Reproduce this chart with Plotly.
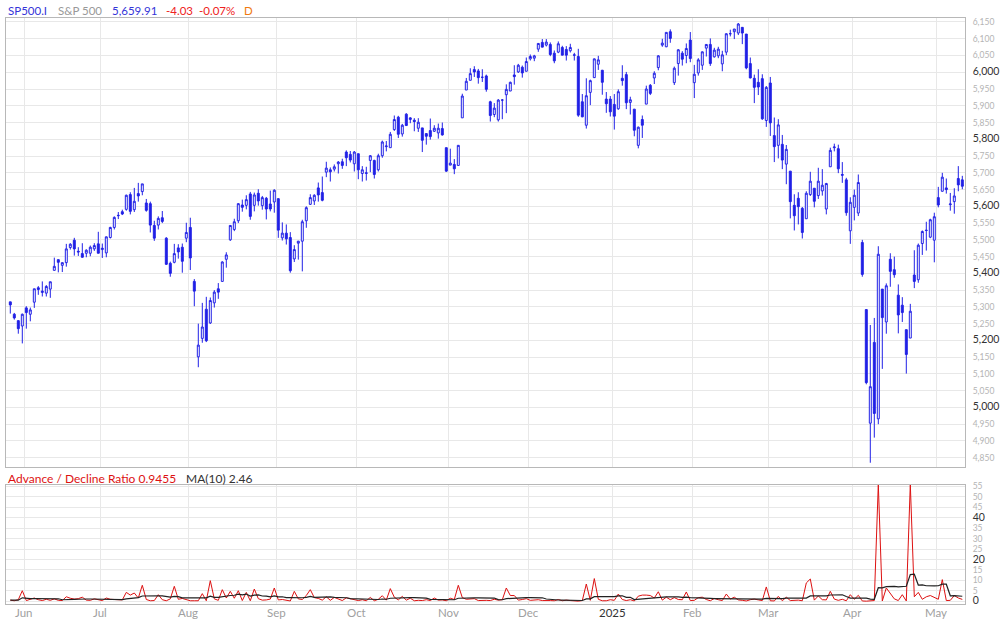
import plotly.graph_objects as go
import pandas as pd

# ---------------- data ----------------
dates = ["2024-05-28","2024-05-29","2024-05-30","2024-05-31","2024-06-03","2024-06-04","2024-06-05","2024-06-06","2024-06-07","2024-06-10",
"2024-06-11","2024-06-12","2024-06-13","2024-06-14","2024-06-17","2024-06-18","2024-06-20","2024-06-21","2024-06-24","2024-06-25",
"2024-06-26","2024-06-27","2024-06-28","2024-07-01","2024-07-02","2024-07-03","2024-07-05","2024-07-08","2024-07-09","2024-07-10",
"2024-07-11","2024-07-12","2024-07-15","2024-07-16","2024-07-17","2024-07-18","2024-07-19","2024-07-22","2024-07-23","2024-07-24",
"2024-07-25","2024-07-26","2024-07-29","2024-07-30","2024-07-31","2024-08-01","2024-08-02","2024-08-05","2024-08-06","2024-08-07",
"2024-08-08","2024-08-09","2024-08-12","2024-08-13","2024-08-14","2024-08-15","2024-08-16","2024-08-19","2024-08-20","2024-08-21",
"2024-08-22","2024-08-23","2024-08-26","2024-08-27","2024-08-28","2024-08-29","2024-08-30","2024-09-03","2024-09-04","2024-09-05",
"2024-09-06","2024-09-09","2024-09-10","2024-09-11","2024-09-12","2024-09-13","2024-09-16","2024-09-17","2024-09-18","2024-09-19",
"2024-09-20","2024-09-23","2024-09-24","2024-09-25","2024-09-26","2024-09-27","2024-09-30","2024-10-01","2024-10-02","2024-10-03",
"2024-10-04","2024-10-07","2024-10-08","2024-10-09","2024-10-10","2024-10-11","2024-10-14","2024-10-15","2024-10-16","2024-10-17",
"2024-10-18","2024-10-21","2024-10-22","2024-10-23","2024-10-24","2024-10-25","2024-10-28","2024-10-29","2024-10-30","2024-10-31",
"2024-11-01","2024-11-04","2024-11-05","2024-11-06","2024-11-07","2024-11-08","2024-11-11","2024-11-12","2024-11-13","2024-11-14",
"2024-11-15","2024-11-18","2024-11-19","2024-11-20","2024-11-21","2024-11-22","2024-11-25","2024-11-26","2024-11-27","2024-11-29",
"2024-12-02","2024-12-03","2024-12-04","2024-12-05","2024-12-06","2024-12-09","2024-12-10","2024-12-11","2024-12-12","2024-12-13",
"2024-12-16","2024-12-17","2024-12-18","2024-12-19","2024-12-20","2024-12-23","2024-12-24","2024-12-26","2024-12-27","2024-12-30",
"2024-12-31","2025-01-02","2025-01-03","2025-01-06","2025-01-07","2025-01-08","2025-01-10","2025-01-13","2025-01-14","2025-01-15",
"2025-01-16","2025-01-17","2025-01-21","2025-01-22","2025-01-23","2025-01-24","2025-01-27","2025-01-28","2025-01-29","2025-01-30",
"2025-01-31","2025-02-03","2025-02-04","2025-02-05","2025-02-06","2025-02-07","2025-02-10","2025-02-11","2025-02-12","2025-02-13",
"2025-02-14","2025-02-18","2025-02-19","2025-02-20","2025-02-21","2025-02-24","2025-02-25","2025-02-26","2025-02-27","2025-02-28",
"2025-03-03","2025-03-04","2025-03-05","2025-03-06","2025-03-07","2025-03-10","2025-03-11","2025-03-12","2025-03-13","2025-03-14",
"2025-03-17","2025-03-18","2025-03-19","2025-03-20","2025-03-21","2025-03-24","2025-03-25","2025-03-26","2025-03-27","2025-03-28",
"2025-03-31","2025-04-01","2025-04-02","2025-04-03","2025-04-04","2025-04-07","2025-04-08","2025-04-09","2025-04-10","2025-04-11",
"2025-04-14","2025-04-15","2025-04-16","2025-04-17","2025-04-21","2025-04-22","2025-04-23","2025-04-24","2025-04-25","2025-04-28",
"2025-04-29","2025-04-30","2025-05-01","2025-05-02","2025-05-05","2025-05-06","2025-05-07","2025-05-08","2025-05-09"]

opens = [5315,5278,5259,5243,5297,5278,5314,5357,5343,5341,5353,5409,5441,5424,5432,5477,5499,5466,5459,5460,
5460,5473,5488,5471,5461,5507,5537,5572,5584,5591,5635,5590,5638,5644,5610,5608,5543,5544,5566,5505,
5430,5433,5476,5478,5505,5537,5376,5151,5206,5293,5252,5312,5354,5376,5442,5500,5531,5557,5604,5603,
5637,5603,5639,5602,5624,5607,5613,5623,5506,5520,5507,5443,5490,5496,5557,5606,5616,5655,5641,5702,
5709,5711,5727,5733,5762,5755,5727,5757,5698,5698,5737,5737,5709,5751,5778,5775,5829,5866,5816,5875,
5859,5857,5833,5834,5817,5826,5824,5819,5832,5775,5723,5725,5722,5864,5947,5976,6008,6004,5985,5989,
5912,5874,5858,5917,5933,5944,5992,6001,6015,6003,6040,6042,6069,6089,6081,6083,6057,6060,6074,6068,
6064,6052,6047,5912,5842,5940,5984,6024,6006,5920,5920,5904,5891,5982,5993,5910,5890,5782,5859,5905,
5961,5983,6014,6081,6076,6121,5969,6026,6057,6050,6096,5969,5998,6021,6072,6083,6046,6049,6025,6060,
6115,6121,6117,6134,6114,6026,5982,5970,5981,5856,5968,5811,5782,5785,5726,5705,5603,5624,5594,5563,
5635,5654,5632,5646,5592,5718,5775,5772,5695,5679,5527,5597,5580,5492,5292,4953,5194,4966,5353,5255,
5442,5411,5335,5305,5232,5207,5395,5381,5489,5529,5508,5499,5626,5645,5655,5605,5614,5683,5679]

highs = [5315,5282,5260,5280,5302,5298,5354,5362,5376,5365,5375,5447,5441,5432,5488,5490,5506,5478,5490,5472,
5483,5490,5524,5489,5510,5539,5570,5583,5590,5635,5642,5655,5670,5667,5622,5614,5557,5570,5586,5508,
5435,5488,5487,5489,5551,5566,5383,5250,5312,5330,5328,5350,5371,5436,5463,5544,5563,5609,5620,5633,
5643,5641,5651,5631,5628,5647,5651,5623,5552,5546,5523,5484,5497,5560,5600,5636,5636,5671,5689,5733,
5716,5725,5735,5742,5767,5765,5765,5757,5720,5718,5753,5739,5757,5796,5795,5822,5871,5870,5846,5878,
5866,5863,5863,5834,5817,5862,5842,5847,5850,5775,5772,5741,5783,5936,5983,6012,6018,6010,6009,5993,
5915,5908,5920,5920,5964,5972,6021,6025,6020,6044,6053,6052,6087,6099,6099,6089,6065,6092,6079,6078,
6085,6058,6070,5935,5982,5978,6041,6049,6007,5941,5929,5935,5949,6021,6001,5927,5890,5838,5871,5960,
5965,6003,6051,6100,6119,6128,6017,6069,6063,6086,6120,6022,6042,6062,6084,6101,6073,6076,6064,6116,
6127,6129,6147,6134,6114,6044,5993,6009,5994,5959,5986,5865,5860,5813,5783,5705,5636,5642,5598,5645,
5703,5654,5715,5711,5670,5775,5787,5784,5732,5685,5627,5650,5695,5500,5292,5246,5267,5481,5353,5370,
5460,5450,5367,5329,5232,5309,5469,5489,5528,5554,5563,5581,5658,5700,5683,5640,5654,5720,5691]

lows = [5280,5262,5220,5191,5235,5257,5297,5336,5331,5331,5327,5409,5403,5404,5420,5471,5453,5452,5447,5448,
5451,5467,5460,5446,5448,5504,5531,5562,5574,5587,5576,5583,5614,5633,5584,5522,5497,5531,5550,5425,
5390,5430,5444,5402,5493,5410,5302,5120,5193,5195,5249,5298,5324,5376,5417,5497,5526,5550,5584,5591,
5560,5585,5602,5590,5561,5585,5581,5506,5498,5486,5402,5434,5441,5406,5536,5604,5604,5614,5615,5687,
5674,5704,5698,5712,5720,5731,5704,5681,5674,5677,5702,5683,5704,5745,5764,5775,5825,5804,5808,5840,
5848,5824,5822,5762,5784,5799,5822,5802,5811,5703,5723,5696,5722,5864,5947,5976,5986,5966,5971,5942,
5853,5866,5853,5860,5878,5944,5963,5998,5984,6003,6035,6033,6061,6075,6077,6048,6027,6057,6051,6035,
6059,6035,5867,5866,5832,5902,5983,6007,5933,5879,5868,5829,5888,5960,5890,5874,5809,5773,5804,5905,
5932,5965,6006,6076,6075,6088,5962,5990,6020,6027,6030,5923,5990,6007,6047,6019,6044,6042,6003,6051,
6107,6099,6111,6084,6009,5982,5908,5932,5858,5837,5810,5732,5743,5711,5666,5564,5528,5546,5504,5563,
5631,5597,5622,5632,5576,5718,5764,5699,5670,5572,5488,5558,5571,5390,5069,4835,4910,4950,5115,5220,
5360,5387,5221,5255,5101,5207,5356,5372,5455,5468,5505,5433,5597,5644,5638,5587,5578,5645,5651]

closes = [5306,5267,5235,5278,5283,5291,5354,5352,5347,5361,5375,5421,5433,5432,5473,5487,5473,5464,5448,5469,
5478,5483,5460,5475,5509,5537,5567,5573,5577,5633,5585,5615,5631,5667,5588,5544,5505,5564,5555,5427,
5400,5459,5464,5436,5522,5446,5347,5186,5240,5199,5319,5344,5344,5434,5455,5543,5554,5608,5597,5620,
5570,5634,5616,5626,5592,5592,5648,5529,5520,5503,5408,5471,5496,5554,5596,5626,5633,5634,5618,5714,
5703,5718,5732,5722,5745,5738,5762,5709,5709,5700,5751,5695,5751,5792,5780,5815,5859,5815,5842,5841,
5864,5853,5851,5797,5809,5808,5833,5833,5813,5705,5729,5712,5782,5929,5973,5996,6001,5984,5985,5949,
5871,5893,5917,5917,5949,5970,5987,6021,5998,6032,6047,6049,6086,6075,6090,6053,6034,6085,6051,6051,
6074,6051,5872,5867,5930,5975,6040,6037,5970,5906,5882,5869,5942,5975,5909,5918,5827,5836,5842,5950,
5937,5997,6049,6087,6119,6101,6012,6067,6039,6071,6041,5994,6037,6061,6083,6026,6066,6069,6052,6115,
6115,6129,6144,6117,6013,5983,5955,5956,5861,5955,5849,5778,5843,5738,5770,5614,5572,5599,5522,5639,
5675,5615,5675,5663,5668,5767,5777,5712,5693,5581,5612,5633,5671,5397,5074,5062,4982,5457,5268,5363,
5406,5396,5276,5283,5158,5287,5376,5484,5525,5528,5560,5569,5604,5687,5650,5607,5631,5664,5659.91]

ad_ratio = [0.6,0.3,0.8,5.1,0.4,0.9,1.6,0.8,0.4,1.0,0.5,1.2,0.5,0.4,2.2,1.5,1.1,1.3,2.0,0.6,
0.5,1.2,0.7,0.4,1.6,1.0,0.9,0.8,0.7,4.3,3.0,4.0,1.6,7.7,0.9,0.3,0.4,3.2,0.8,0.3,
1.2,7.2,1.0,1.4,0.9,0.3,0.3,0.3,3.7,0.3,9.9,1.2,0.5,5.6,1.6,4.8,1.5,5.1,0.4,4.3,
0.3,5.9,1.3,0.6,0.7,1.1,6.4,0.7,0.9,0.4,0.2,4.8,1.2,0.9,2.8,5.6,1.8,1.4,0.6,2.2,
0.5,1.9,1.2,0.4,1.7,1.3,0.9,0.4,0.8,0.3,1.9,0.3,1.0,2.7,0.6,6.1,2.0,0.7,2.4,0.6,
1.5,0.3,0.5,0.4,0.8,0.4,1.6,0.6,0.7,0.3,1.5,0.9,7.7,1.8,1.0,1.2,1.3,0.4,0.6,0.5,
0.4,1.0,0.6,0.8,6.4,2.8,2.8,0.6,0.9,1.3,0.5,0.7,0.8,0.4,0.5,0.4,0.3,0.9,0.3,0.6,
0.4,0.3,0.1,0.4,8.3,0.5,10.9,1.0,0.3,0.3,0.8,0.5,3.5,0.9,0.4,0.8,0.2,2.5,3.0,3.0,
2.8,1.6,4.6,0.6,2.0,0.8,1.8,0.9,0.8,4.5,0.4,0.5,1.8,2.0,0.9,0.3,1.4,0.8,0.4,3.5,
1.1,2.0,0.7,0.5,0.2,0.8,1.1,0.7,0.4,6.9,0.3,0.2,2.4,0.3,2.0,0.4,0.5,0.6,0.3,8.8,
10.7,0.6,2.6,0.8,0.7,4.8,1.1,0.5,1.0,0.3,3.2,1.0,2.9,0.2,0.1,0.3,0.4,56.0,0.2,6.4,
4.0,1.2,0.4,3.2,0.2,56.0,2.2,4.3,1.0,2.2,2.8,1.9,1.0,10.4,0.4,0.5,2.8,1.6,0.9455]

month_labels = ["Jun","Jul","Aug","Sep","Oct","Nov","Dec","2025","Feb","Mar","Apr","May"]
month_first_days = ["2024-06-03","2024-07-01","2024-08-01","2024-09-03","2024-10-01","2024-11-01",
                    "2024-12-02","2025-01-02","2025-02-03","2025-03-03","2025-04-01","2025-05-01"]

price_ticks = list(range(4850, 6151, 50))
major_price_ticks = [5000, 5200, 5400, 5600, 5800, 6000]
ad_ticks = list(range(0, 56, 5))
major_ad_ticks = [0, 20, 40]

# ---------------- layout constants (pixels) ----------------
W, H = 1000, 622
PL, PR, PT, PB = 6, 965, 18, 604          # plot area
MAIN_BOTTOM, SUB_TOP = 467, 485
BLUE = "#2121e6"
FONT = "Lato"

x = list(range(len(dates)))
month_pos = [dates.index(d) - 0.5 for d in month_first_days]
ma10 = pd.Series(ad_ratio).rolling(10, min_periods=1).mean().tolist()

xr = [-1.075, len(dates) - 1 + 0.675]

def ypaper(py):
    return (PB - py) / (PB - PT)

def xpaper(px):
    return (px - PL) / (PR - PL)

fig = go.Figure()
fig.add_trace(go.Candlestick(
    x=x, open=opens, high=highs, low=lows, close=closes,
    increasing=dict(line=dict(color=BLUE, width=1), fillcolor="white"),
    decreasing=dict(line=dict(color=BLUE, width=1), fillcolor=BLUE),
    whiskerwidth=0, xaxis="x", yaxis="y", showlegend=False, hoverinfo="skip"))

fig.add_trace(go.Scatter(x=x, y=ad_ratio, mode="lines", line=dict(color="#dd1111", width=1),
                         xaxis="x2", yaxis="y2", showlegend=False, hoverinfo="skip"))
fig.add_trace(go.Scatter(x=x, y=ma10, mode="lines", line=dict(color="#222222", width=1.2),
                         xaxis="x2", yaxis="y2", showlegend=False, hoverinfo="skip"))

def fmt(v):
    return f"{v:,}"

MAJ = "<span style='font-size:10.5px;color:#333333'>{}</span>"
price_text = [MAJ.format(fmt(v)) if v in major_price_ticks else fmt(v) for v in price_ticks]
ad_text = [MAJ.format(v) if v in major_ad_ticks else str(v) for v in ad_ticks]

grid = "#e8e8e8"
border = "#b8b8b8"
main_dom = [ypaper(MAIN_BOTTOM), 1]
sub_dom = [0, ypaper(SUB_TOP)]
minor_font = dict(family=FONT, size=8.5, color="#b4b4b4")

common_x = dict(range=xr, tickvals=month_pos, showticklabels=False, showgrid=True, gridcolor=grid,
                gridwidth=1, showline=True, linecolor=border, linewidth=1, mirror=True,
                zeroline=False, ticks="", automargin=False)
common_y = dict(side="right", showgrid=True, gridcolor=grid, gridwidth=1, showline=True,
                linecolor=border, linewidth=1, mirror=True, zeroline=False, ticks="",
                ticklabelstandoff=5, tickfont=minor_font, automargin=False)

fig.update_layout(
    width=W, height=H,
    margin=dict(l=PL, r=W - PR, t=PT, b=H - PB, pad=0, autoexpand=False),
    paper_bgcolor="white", plot_bgcolor="white",
    font=dict(family=FONT, size=10, color="#aaaaaa"),
    xaxis=dict(domain=[0, 1], anchor="y", rangeslider=dict(visible=False), **common_x),
    yaxis=dict(domain=main_dom, range=[4822.3, 6161.9], anchor="x",
               tickvals=price_ticks, ticktext=price_text, **common_y),
    xaxis2=dict(domain=[0, 1], anchor="y2", **common_x),
    yaxis2=dict(domain=sub_dom, range=[-1.25, 55.6], anchor="x2",
                tickvals=ad_ticks, ticktext=ad_text, **common_y),
)

# month labels under the lower panel, placed at the month boundaries on the x2 scale
for pos, lab in zip(month_pos, month_labels):
    fig.add_annotation(x=pos, y=ypaper(613), xref="x2", yref="paper", text=lab, showarrow=False,
                       xanchor="center", yanchor="middle",
                       font=dict(family=FONT, size=11.5, color="#333333" if lab == "2025" else "#a0a0a0"))

def label(px, py, text, color, size=11.5):
    fig.add_annotation(x=xpaper(px), y=ypaper(py), xref="paper", yref="paper", text=text,
                       showarrow=False, xanchor="left", yanchor="middle",
                       font=dict(family=FONT, size=size, color=color))

label(6, 10, "SP500.I", "#3535d8")
label(56, 10, "S&P 500", "#999999")
label(110, 10, "5,659.91", "#3535d8")
label(164, 10, "-4.03", "#ee2222")
label(197, 10, "-0.07%", "#ee2222")
label(242, 10, "D", "#f07a10")
label(6, 478, "Advance / Decline Ratio 0.9455", "#dd1111", 12)
label(184, 478, "MA(10) 2.46", "#333333", 12)

# remove the browser's default 8px page margin so the figure sits at the window origin
fig.write_html("out.html", config={"displayModeBar": False},
               post_script="document.body.style.margin='0px';document.body.style.overflow='hidden';")
